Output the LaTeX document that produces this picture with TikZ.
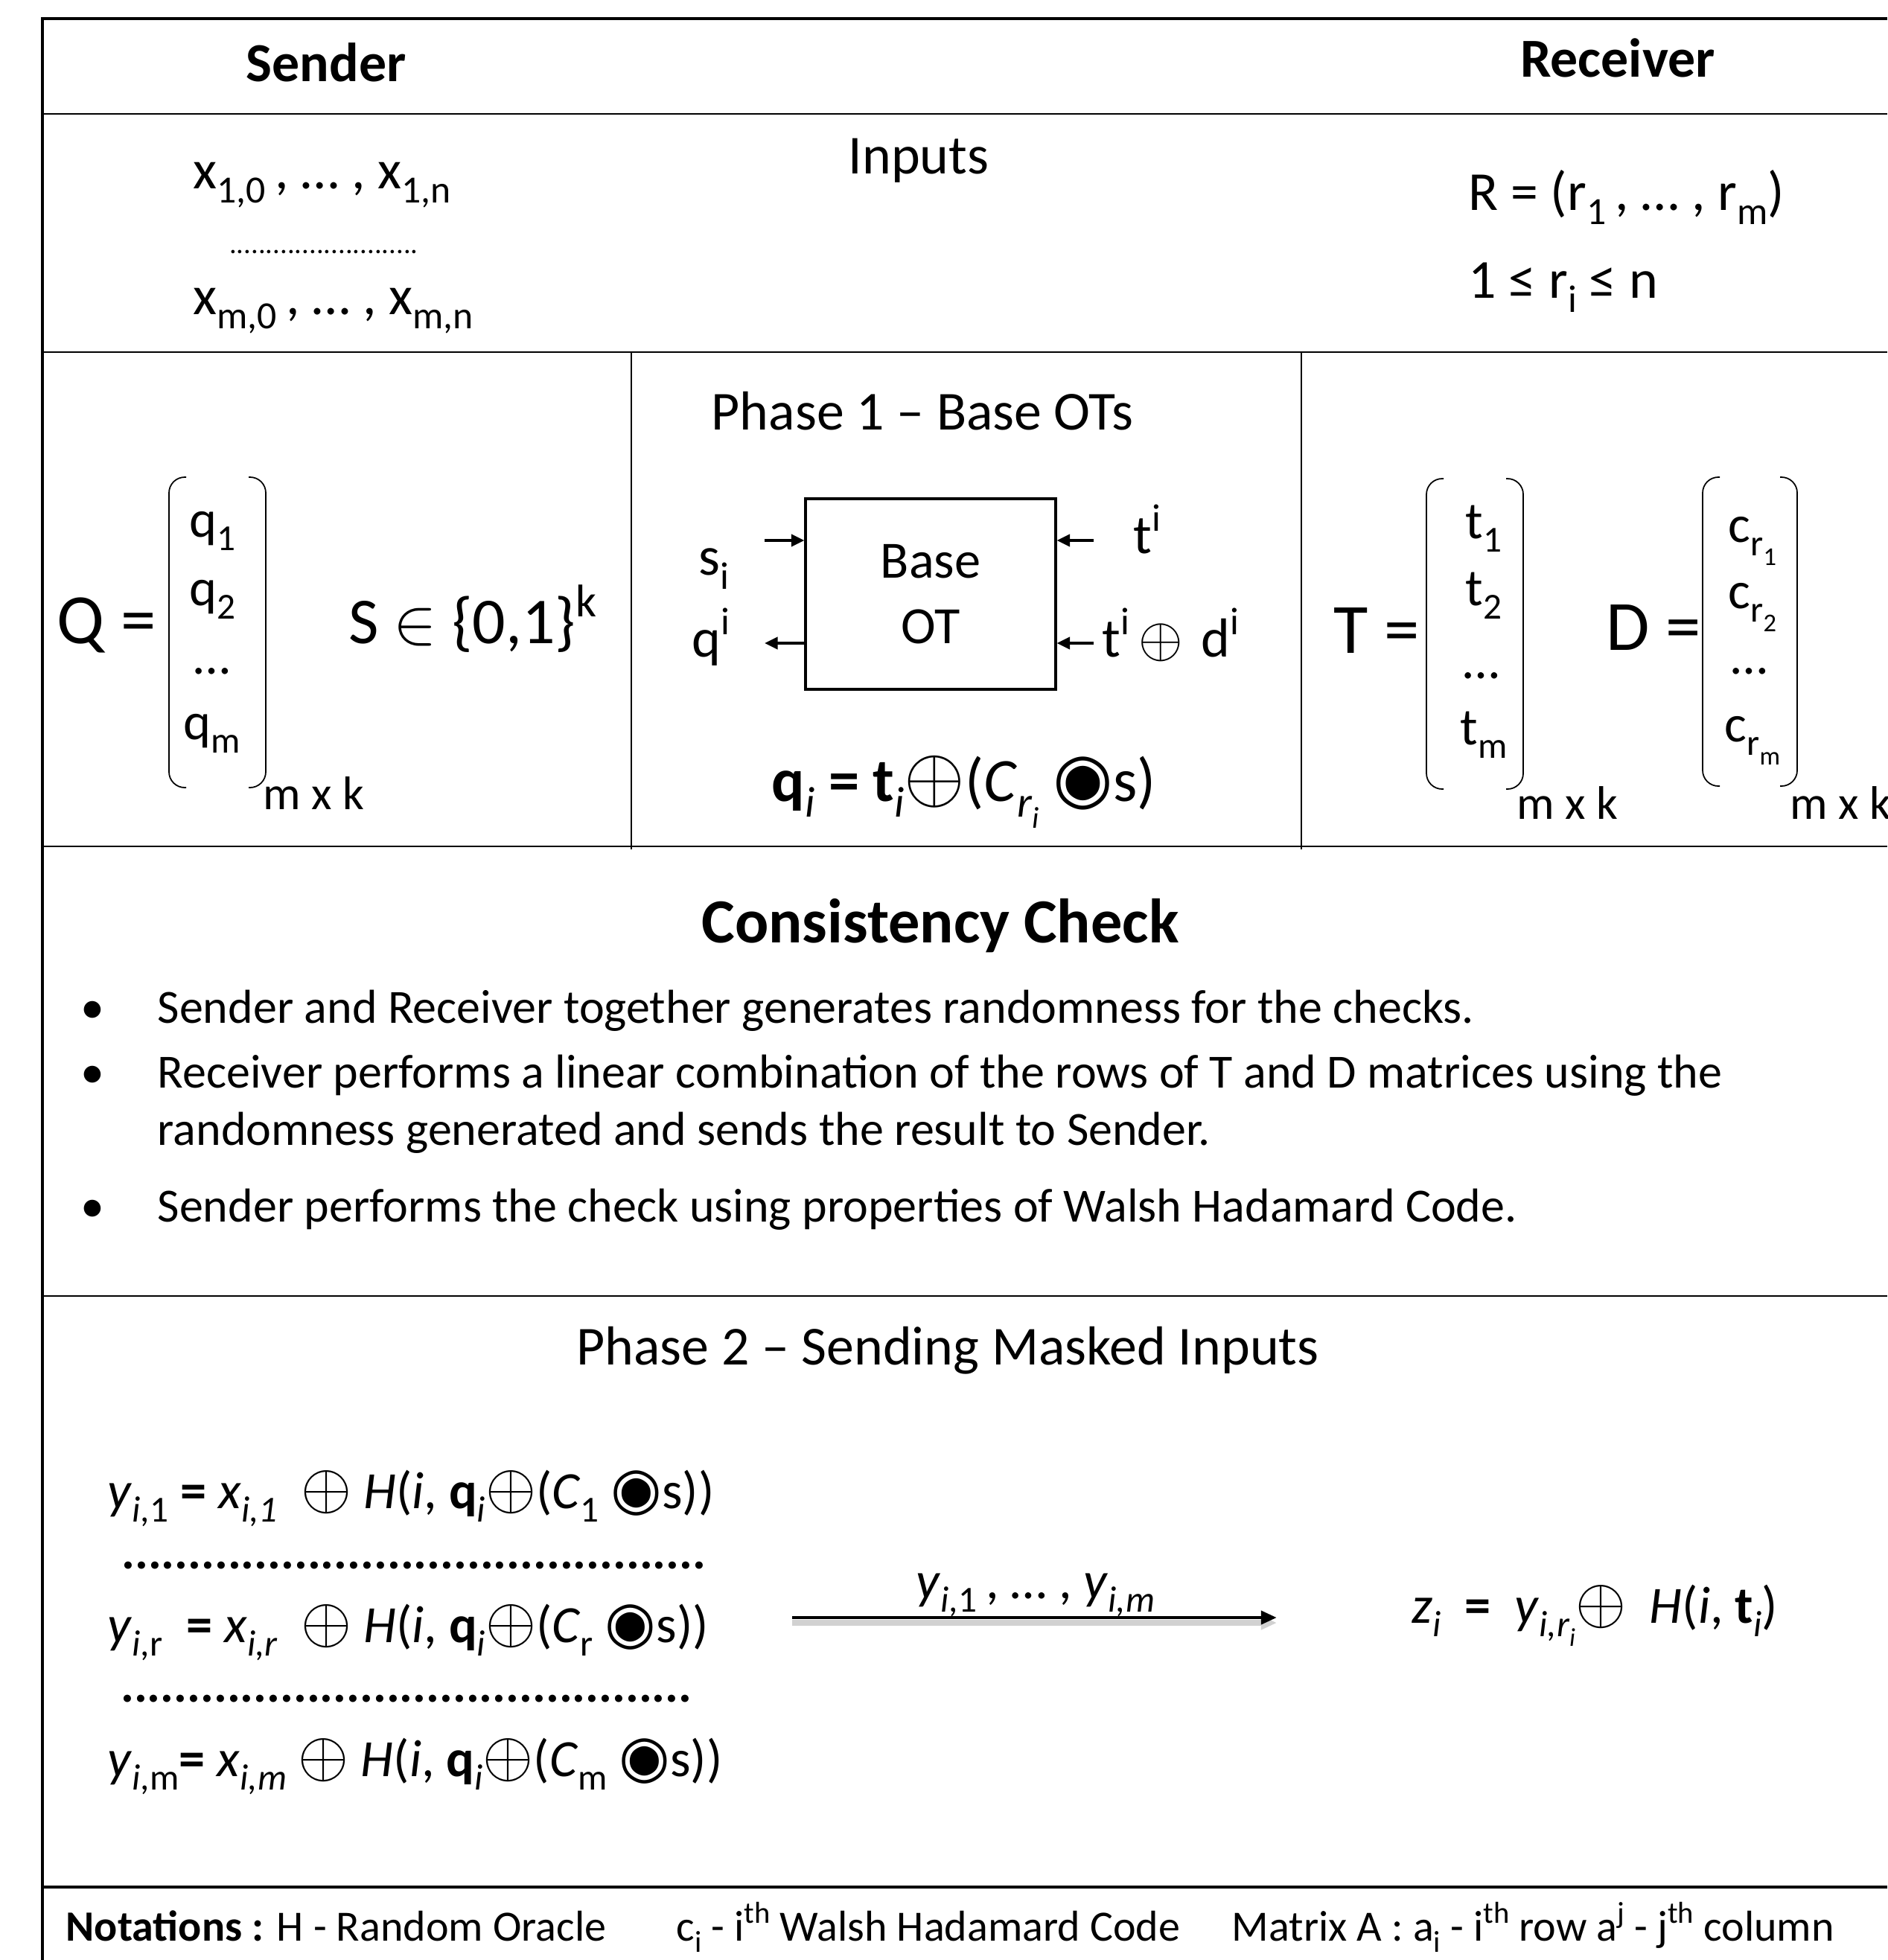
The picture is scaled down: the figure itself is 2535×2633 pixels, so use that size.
\documentclass[tikz,border=0pt]{standalone}
\usepackage{fontspec}
\usepackage{graphicx}
\setmainfont{Carlito}
\newfontfamily\dejavu{DejaVu Sans}
\usetikzlibrary{arrows.meta}

\makeatletter
\newcommand{\fsz}[1]{\fontsize{#1}{#1}\selectfont}
\newcommand{\subs}[1]{\raisebox{-0.26em}{\fontsize{\fpeval{0.7*\f@size}}{\fpeval{0.8*\f@size}}\selectfont #1}}
\newcommand{\sups}[1]{\raisebox{0.4em}{\fontsize{\fpeval{0.7*\f@size}}{\fpeval{0.8*\f@size}}\selectfont #1}}
\makeatother
\newcommand{\xor}{\scalebox{1.2}{$\oplus$}}
\newcommand{\bdot}{\scalebox{1.12}{\dejavu ◉}}
\newcommand{\dotrow}[1]{\foreach \k in {1,...,#1}{.}}

\begin{document}
\begin{tikzpicture}[
  x=0.01cm, y=-0.01cm,
  >={Triangle[length=5pt,width=4.5pt]},
  every node/.style={inner sep=0pt},
  frame/.style={line width=1.4pt},
  rule/.style={line width=0.5pt},
  thinrule/.style={line width=0.35pt},
  head/.style={font=\fsz{21}\bfseries},
  txt/.style={font=\fsz{21}},
  mat/.style={font=\fsz{20}},
  dim/.style={font=\fsz{18}},
  big/.style={font=\fsz{27}},
  item/.style={font=\fsz{18.2}},
  eqn/.style={font=\fsz{20}},
  bracket/.style={line width=0.5pt, rounded corners=6pt},
  otbox/.style={draw, line width=1.1pt, minimum width=3.35cm,
    minimum height=2.56cm, align=center, font=\fontsize{20}{25}\selectfont},
  otarrow/.style={->, line width=1.2pt},
  sendarrow/.style={-{Triangle[length=6pt,width=5pt]}, line width=1.4pt,
    preaction={draw=black!18, line width=2.5pt, transform canvas={yshift=-2pt}}},
  ]
  \useasboundingbox (0,0) rectangle (2535,2633);
  \clip (0,0) rectangle (2535,2633);

  % table frame and rules
  \draw[frame] (2535,25) -- (57,25) -- (57,2633);
  \draw[rule] (57,153) -- (2535,153);
  \draw[rule] (57,473) -- (2535,473);
  \draw[rule] (57,1137) -- (2535,1137);
  \draw[rule] (57,1741) -- (2535,1741);
  \draw[line width=1pt] (57,2535) -- (2535,2535);
  \draw[thinrule] (848,473) -- (848,1141);
  \draw[thinrule] (1748,473) -- (1748,1141);

  % header
  \node[head, anchor=base] (sender) at (438,110) {Sender};
  \node[head, anchor=base] (receiver) at (2173,103) {Receiver};

  % inputs
  \node[txt, anchor=base] (inputs) at (1234,233) {Inputs};
  \node[txt, anchor=base west] (xfirst) at (259,253) {x\subs{1,0}\,, … , x\subs{1,n}};
  \node[font=\fsz{11}] (xdots) at (435,338) {\dotrow{26}};
  \node[txt, anchor=base west] (xlast) at (259,422) {x\subs{m,0}\,, … , x\subs{m,n}};
  \node[txt, anchor=base west] (rvec) at (1972,282) {R = (r\subs{1}\,, … , r\subs{m})};
  \node[txt, anchor=base west] (rrange) at (1972,400) {1 ≤ r\subs{i} ≤ n};

  % brackets of the three matrices
  \foreach \l/\r/\t/\b in {227/357/641/1058, 1916/2046/643/1060, 2287/2414/641/1056}{
    \draw[bracket] (\l+23,\t) -- (\l,\t) -- (\l,\b) -- (\l+23,\b);
    \draw[bracket] (\r-23,\t) -- (\r,\t) -- (\r,\b) -- (\r-23,\b);
  }

  % phase 1: sender side
  \node[big, anchor=base west] (qname) at (76,864) {Q =};
  \node[mat, anchor=base] (q1) at (285,721) {q\subs{1}};
  \node[mat, anchor=base] (q2) at (285,813) {q\subs{2}};
  \node[mat, anchor=base] (qdots) at (285,905) {…};
  \node[mat, anchor=base] (qm) at (285,993) {q\subs{m}};
  \node[dim, anchor=base west] (qsize) at (353,1087) {m x k};
  \node[font=\fsz{25}, anchor=base west] (sset) at (468,864) {S $\in$ \{0,1\}\sups{k}};

  % phase 1: base OTs
  \node[txt, anchor=base] (phaseone) at (1239,577) {Phase 1 – Base OTs};
  \node[otbox] (ot) at (1250,798) {Base\\OT};
  \coordinate (sin) at (1027,726);
  \coordinate (qout) at (1027,864);
  \coordinate (tin) at (1469,726);
  \coordinate (tdin) at (1469,864);
  \draw[otarrow] (sin) -- (sin -| ot.west);
  \draw[otarrow] (qout -| ot.west) -- (qout);
  \draw[otarrow] (tin) -- (tin -| ot.east);
  \draw[otarrow] (tdin) -- (tdin -| ot.east);
  \node[txt, anchor=base west] (slab) at (938,772) {s\subs{i}};
  \node[txt, anchor=base west] (qlab) at (929,882) {q\sups{i}};
  \node[txt, anchor=base west] (tlab) at (1522,743) {t\sups{i}};
  \node[txt, anchor=base west] (tdlab) at (1480,882) {t\sups{i}\,\scalebox{1.05}{$\oplus$}\,\,d\sups{i}};
  \node[font=\fsz{23.5}, anchor=base west] (qrel) at (1036,1076)
    {{\bfseries q}\subs{\itshape i} {\bfseries =} {\bfseries t}\subs{\itshape i}\xor(\textit{C}\subs{\itshape r\subs{i}} \bdot s)};

  % phase 1: receiver side
  \node[big, anchor=base west] (tname) at (1791,877) {T =};
  \node[mat, anchor=base] (t1) at (1993,723) {t\subs{1}};
  \node[mat, anchor=base] (t2) at (1993,813) {t\subs{2}};
  \node[mat, anchor=base] (tdots) at (1990,911) {…};
  \node[mat, anchor=base] (tm) at (1993,1000) {t\subs{m}};
  \node[dim, anchor=base west] (tsize) at (2037,1100) {m x k};
  \node[big, anchor=base west] (dname) at (2157,873) {D =};
  \node[mat, anchor=base] (c1) at (2354,728) {c\subs{r\subs{1}}};
  \node[mat, anchor=base] (c2) at (2354,817) {c\subs{r\subs{2}}};
  \node[mat, anchor=base] (cdots) at (2350,905) {…};
  \node[mat, anchor=base] (cm) at (2354,996) {c\subs{r\subs{m}}};
  \node[dim, anchor=base west] (dsize) at (2404,1100) {m x k};

  % consistency check
  \node[font=\fsz{24}\bfseries, anchor=base] (cctitle) at (1263,1266) {Consistency Check};
  \node[item, anchor=base] (b1) at (124,1374) {•};
  \node[item, anchor=base west] (c1txt) at (211,1374) {Sender and Receiver together generates randomness for the checks.};
  \node[item, anchor=base] (b2) at (124,1461) {•};
  \node[item, anchor=base west] (c2txt) at (211,1461) {Receiver performs a linear combination of the rows of T and D matrices using the};
  \node[item, anchor=base west] (c2more) at (211,1538) {randomness generated and sends the result to Sender.};
  \node[item, anchor=base] (b3) at (124,1641) {•};
  \node[item, anchor=base west] (c3txt) at (211,1641) {Sender performs the check using properties of Walsh Hadamard Code.};

  % phase 2
  \node[txt, anchor=base] (phasetwo) at (1273,1833) {Phase 2 – Sending Masked Inputs};
  \node[eqn, anchor=base west] (yone) at (144,2026)
    {\textit{y}\subs{\itshape i,\upshape 1} {\bfseries =} \textit{x}\subs{\itshape i,1}\ \ \xor\ \textit{H}(\textit{i}, {\bfseries q}\subs{\itshape i}\xor(\textit{C}\subs{1} \bdot s))};
  \node[font=\fsz{19}\bfseries] (ydotsa) at (556,2103) {\dotrow{44}};
  \node[eqn, anchor=base west] (yr) at (144,2206)
    {\textit{y}\subs{\itshape i,\upshape r} \ {\bfseries =} \textit{x}\subs{\itshape i,r}\ \ \xor\ \textit{H}(\textit{i}, {\bfseries q}\subs{\itshape i}\xor(\textit{C}\subs{r} \bdot s))};
  \node[font=\fsz{19}\bfseries] (ydotsb) at (546,2282) {\dotrow{43}};
  \node[eqn, anchor=base west] (ym) at (144,2386)
    {\textit{y}\subs{\itshape i,\upshape m}{\bfseries =} \textit{x}\subs{\itshape i,m} \xor\ \textit{H}(\textit{i}, {\bfseries q}\subs{\itshape i}\xor(\textit{C}\subs{m} \bdot s))};
  \coordinate (send) at (1064,2173);
  \coordinate (recv) at (1715,2173);
  \draw[sendarrow] (send) -- (recv);
  \node[eqn, anchor=base] (ylist) at (1391,2147) {\textit{y}\subs{\itshape i,\upshape 1}\,, … , \textit{y}\subs{\itshape i,m}};
  \node[eqn, anchor=base west] (zout) at (1896,2180)
    {\textit{z}\subs{\itshape i} \ {\bfseries =}\ \ \textit{y}\subs{\itshape i,r\subs{i}}\xor\ \ \textit{H}(\textit{i}, {\bfseries t}\subs{\itshape i})};

  % notations
  \node[font=\fsz{16.5}, anchor=base west] (nota) at (88,2607) {\textbf{Notations :} H - Random Oracle};
  \node[font=\fsz{16.5}, anchor=base west] (notb) at (908,2607) {c\subs{i} - i\sups{th} Walsh Hadamard Code};
  \node[font=\fsz{16.5}, anchor=base west] (notc) at (1654,2607) {Matrix A : a\subs{i} - i\sups{th} row a\sups{j} - j\sups{th} column};
\end{tikzpicture}
\end{document}
